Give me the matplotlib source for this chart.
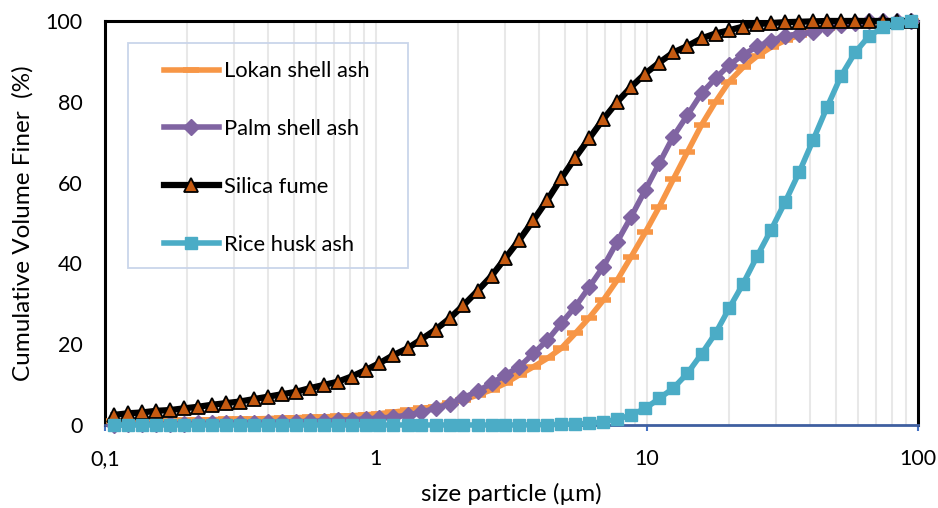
import numpy as np
import matplotlib
matplotlib.use('Agg')
import matplotlib.pyplot as plt
from matplotlib.patches import Rectangle
from matplotlib.ticker import FixedLocator, NullFormatter

plt.rcParams['font.family'] = ['Lato', 'DejaVu Sans']

# particle size classes (um)
size_um = [0.108, 0.122, 0.137, 0.154, 0.174, 0.195, 0.220, 0.248, 0.279, 0.314,
           0.354, 0.399, 0.449, 0.506, 0.569, 0.641, 0.722, 0.813, 0.916, 1.03,
           1.16, 1.31, 1.47, 1.66, 1.87, 2.10, 2.37, 2.67, 3.00, 3.38,
           3.81, 4.29, 4.83, 5.44, 6.13, 6.90, 7.77, 8.75, 9.86, 11.1,
           12.5, 14.1, 15.9, 17.9, 20.1, 22.6, 25.5, 28.7, 32.4, 36.4,
           41.0, 46.2, 52.0, 58.6, 66.0, 74.3, 83.7, 94.2]

# cumulative volume finer (%)
lokan = [0.9, 1.0, 1.05, 1.1, 1.15, 1.2, 1.25, 1.3, 1.4, 1.45,
         1.5, 1.6, 1.7, 1.8, 1.9, 2.0, 2.15, 2.3, 2.5, 2.8,
         3.2, 3.6, 4.1, 4.5, 5.4, 6.2, 7.4, 8.7, 10.3, 12.4,
         14.4, 16.5, 19.0, 22.7, 26.6, 30.9, 35.9, 41.7, 47.7, 54.0,
         60.8, 67.6, 74.3, 80.0, 85.0, 88.5, 91.3, 93.5, 95.2, 96.5,
         97.5, 98.3, 99.0, 99.5, 99.8, 100, 100, 100]

palm = [0.1, 0.15, 0.2, 0.25, 0.3, 0.35, 0.4, 0.45, 0.5, 0.55,
        0.6, 0.65, 0.7, 0.8, 0.9, 1.0, 1.15, 1.3, 1.5, 1.7,
        2.0, 2.4, 3.2, 4.1, 5.3, 6.7, 8.4, 10.3, 12.4, 14.4,
        17.7, 21.0, 25.2, 29.3, 34.2, 39.2, 45.4, 51.6, 58.2, 64.8,
        71.4, 76.7, 82.1, 85.8, 89.1, 91.6, 93.7, 95.1, 96.3, 96.8,
        97.3, 98.3, 99.0, 99.6, 99.9, 100, 100, 100]

silica = [2.5, 2.9, 3.1, 3.5, 3.7, 4.1, 4.5, 5.0, 5.4, 5.8,
          6.4, 7.0, 7.6, 8.2, 9.1, 9.9, 10.7, 12.0, 13.6, 15.3,
          17.3, 19.0, 21.2, 23.6, 26.4, 29.6, 33.2, 36.9, 41.3, 45.8,
          50.7, 55.7, 61.1, 66.2, 71.0, 75.7, 80.0, 83.7, 87.0, 89.7,
          92.2, 93.8, 95.7, 96.9, 97.7, 98.6, 99.2, 99.5, 99.7, 99.8,
          99.9, 100, 100, 100, 100, 100, 100, 100]

rice = [0] * 30 + [0.05, 0.1, 0.15, 0.25,
                   0.4, 0.8, 1.4, 2.5, 4.1, 6.6, 9.1, 12.8, 17.6, 22.7,
                   28.9, 34.9, 41.8, 48.3, 55.3, 62.5, 70.5, 78.7, 86.4, 92.2,
                   96.3, 98.4, 99.4, 100]

fig = plt.figure(figsize=(9.38, 5.08), dpi=100)
ax = fig.add_axes([0.1119, 0.1634, 0.8668, 0.7953])

ax.plot(size_um, lokan, color='#F79646', lw=4, marker='_', ms=11, mew=4,
        label='Lokan shell ash', clip_on=False, zorder=3)
ax.plot(size_um, palm, color='#8064A2', lw=4, marker='D', ms=8,
        label='Palm shell ash', clip_on=False, zorder=4)
ax.plot(size_um, silica, color='black', lw=4.5, marker='^', ms=10.5,
        mfc='#C55A11', mec='black', mew=1.3,
        label='Silica fume', clip_on=False, zorder=5)
ax.plot(size_um, rice, color='#4BACC6', lw=4, marker='s', ms=8,
        label='Rice husk ash', clip_on=False, zorder=6)

ax.set_xscale('log')
ax.set_xlim(0.1, 100)
ax.set_ylim(0, 100)

ax.xaxis.set_major_locator(FixedLocator([0.1, 1, 10, 100]))
ax.set_xticklabels(['0,1', '1', '10', '100'])
minor = [m * d for d in (0.1, 1, 10) for m in range(2, 10)]
ax.xaxis.set_minor_locator(FixedLocator(minor))
ax.xaxis.set_minor_formatter(NullFormatter())
ax.set_yticks([0, 20, 40, 60, 80, 100])

ax.grid(True, which='both', axis='x', color='#e8e8e8', lw=1.5, zorder=0)
ax.set_axisbelow(True)

ax.tick_params(axis='x', which='major', direction='out', length=4, width=1.5,
               color='#4472C4', labelsize=15.5, pad=13)
ax.tick_params(axis='x', which='minor', length=0)
ax.tick_params(axis='y', length=0, labelsize=15.5, pad=16)

for side in ('left', 'top', 'right'):
    ax.spines[side].set_color('black')
    ax.spines[side].set_linewidth(2.2)
ax.spines['bottom'].set_color('#3F5FA0')
ax.spines['bottom'].set_linewidth(2)

ax.set_xlabel('size particle (\u00b5m)', fontsize=17.5, labelpad=10)
ax.set_ylabel('Cumulative Volume Finer  (%)', fontsize=17.5, labelpad=9)

# legend box drawn separately so the frame can be larger than the entries
ax.add_patch(Rectangle((0.0283, 0.3886), 0.3444, 0.5569, transform=ax.transAxes,
                       fill=False, ec='#C9D5EA', lw=1.3, zorder=2))
ax.legend(loc='upper left', bbox_to_anchor=(0.0726, 0.900), frameon=False,
          fontsize=15.8, handlelength=2.5, handletextpad=0.23,
          labelspacing=1.72, borderpad=0, borderaxespad=0)

fig.savefig('out.png', dpi=100)
